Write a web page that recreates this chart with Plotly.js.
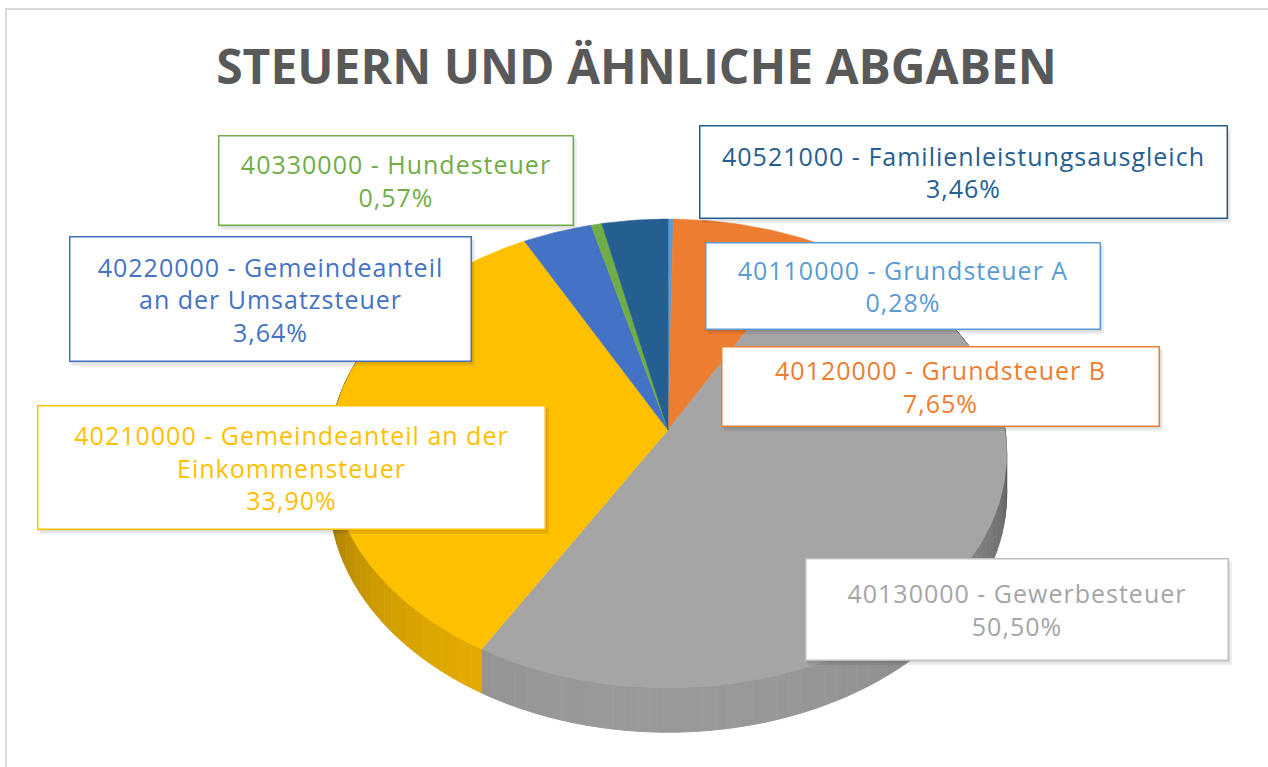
<!DOCTYPE html>
<html>
<head>
<meta charset="utf-8">
<script src="https://cdn.plot.ly/plotly-3.0.1.min.js"></script>
<style>
html,body{margin:0;padding:0;background:#fff;}
#chart{width:1268px;height:767px;}
#chart .annotation-text{letter-spacing:1px;}
</style>
</head>
<body>
<div id="chart"></div>
<script>
// ---- data ----
const codes = ['40110000','40120000','40130000','40210000','40220000','40330000','40521000'];
const names = ['Grundsteuer A','Grundsteuer B','Gewerbesteuer','Gemeindeanteil an der Einkommensteuer','Gemeindeanteil an der Umsatzsteuer','Hundesteuer','Familienleistungsausgleich'];
const shares = [0.28, 7.65, 50.50, 33.90, 3.64, 0.57, 3.46];
const colors = ['#5B9BD5','#ED7D31','#A5A5A5','#FFC000','#4472C4','#70AD47','#255E91'];
const titleText = 'STEUERN UND ÄHNLICHE ABGABEN';

// ---- pie geometry (layout) ----
const geo = {cx: 668, cy: 430, A: 337, B: 232, k: 0.10, D: 40};
function proj(thDeg, drop) {
  const t = thDeg * Math.PI / 180;
  const u = Math.sin(t), v = -Math.cos(t);
  const s = 1 / (1 - geo.k * v);
  return [geo.cx + geo.A * u * s, geo.cy + geo.B * v * s + drop * s];
}
function hex2rgb(h){return [parseInt(h.slice(1,3),16),parseInt(h.slice(3,5),16),parseInt(h.slice(5,7),16)];}
function shade(h,f){const c=hex2rgb(h).map(x=>Math.max(0,Math.min(255,Math.round(x*f))));return 'rgb('+c.join(',')+')';}
function pct(v){return v.toFixed(2).replace('.', ',') + '%';}

const total = shares.reduce((a,b)=>a+b,0);
const starts = [], ends = [];
let acc = 0;
shares.forEach(v => { starts.push(acc/total*360); acc += v; ends.push(acc/total*360); });

const traces = [];
// side walls (front part), shaded strips
shares.forEach((v,i) => {
  const a0 = Math.max(starts[i], 60), a1 = Math.min(ends[i], 300);
  if (a1 <= a0) return;
  const n = Math.max(1, Math.ceil((a1 - a0) / 2));
  for (let j = 0; j < n; j++) {
    const t0 = a0 + (a1 - a0) * j / n, t1 = a0 + (a1 - a0) * (j + 1) / n;
    const xs = [], ys = [];
    for (let q = 0; q <= 4; q++) { const p = proj(t0 + (t1 - t0) * q / 4, 0); xs.push(p[0]); ys.push(p[1]); }
    for (let q = 4; q >= 0; q--) { const p = proj(t0 + (t1 - t0) * q / 4, geo.D); xs.push(p[0]); ys.push(p[1]); }
    const vv = Math.max(0, -Math.cos((t0 + t1) / 2 * Math.PI / 180));
    const f = 0.22 + 0.71 * Math.pow(vv, 0.35);
    const col = shade(colors[i], f);
    traces.push({type:'scatter', mode:'lines', x:xs, y:ys, fill:'toself', fillcolor:col,
      line:{color:col, width:1}, hoverinfo:'skip', showlegend:false});
  }
});
// top faces
shares.forEach((v,i) => {
  const xs = [geo.cx], ys = [geo.cy];
  const n = Math.max(2, Math.ceil((ends[i] - starts[i]) / 1));
  for (let q = 0; q <= n; q++) { const p = proj(starts[i] + (ends[i] - starts[i]) * q / n, 0); xs.push(p[0]); ys.push(p[1]); }
  xs.push(geo.cx); ys.push(geo.cy);
  traces.push({type:'scatter', mode:'lines', x:xs, y:ys, fill:'toself', fillcolor:colors[i],
    line:{color:colors[i], width:0.6}, name: codes[i] + ' - ' + names[i],
    text: pct(v), hoverinfo:'name+text', showlegend:false});
});

// ---- label boxes (layout) ----
const boxes = [
  {i:0, x0:705, x1:1100, y0:242, y1:329, wrap:60},
  {i:1, x0:721, x1:1159, y0:346, y1:426, wrap:60},
  {i:2, x0:805, x1:1228, y0:558, y1:660, wrap:60, border:'#BFBFBF'},
  {i:3, x0:37,  x1:545,  y0:405, y1:529, wrap:33},
  {i:4, x0:69,  x1:471,  y0:236, y1:361, wrap:26},
  {i:5, x0:218, x1:573,  y0:135, y1:225, wrap:60},
  {i:6, x0:699, x1:1227, y0:125, y1:218, wrap:60}
];
function wrapText(s, maxc){
  const w = s.split(' '); const lines = []; let cur = '';
  w.forEach(t => { const c = cur ? cur + ' ' + t : t; if (c.length > maxc && cur) { lines.push(cur); cur = t; } else cur = c; });
  if (cur) lines.push(cur); return lines.join('<br>');
}
const annotations = [];
const shapes = [];
boxes.forEach(b => {
  const i = b.i;
  shapes.push({type:'rect', xref:'x', yref:'y', x0:b.x0+3, x1:b.x1+4, y0:b.y0+4, y1:b.y1+5,
    fillcolor:'rgba(0,0,0,0.07)', line:{width:0}, layer:'above'});
  shapes.push({type:'rect', xref:'x', yref:'y', x0:b.x0+1, x1:b.x1+2, y0:b.y0+2, y1:b.y1+2.5,
    fillcolor:'rgba(0,0,0,0.08)', line:{width:0}, layer:'above'});
  annotations.push({
    xref:'x', yref:'y', x:(b.x0+b.x1)/2, y:(b.y0+b.y1)/2, xanchor:'center', yanchor:'middle',
    text: wrapText(codes[i] + ' - ' + names[i], b.wrap) + '<br>' + pct(shares[i]),
    showarrow:false, align:'center', valign:'middle',
    width:(b.x1-b.x0)-2, height:(b.y1-b.y0)-2, borderpad:0, borderwidth:1.5,
    bordercolor: b.border || colors[i], bgcolor:'#ffffff',
    font:{family:'Open Sans, sans-serif', size:25, color:colors[i]}
  });
});
// outer chart border
shapes.push({type:'rect', xref:'x', yref:'y', x0:6, x1:1290, y0:9, y1:790, line:{color:'#D9D9D9', width:2}, fillcolor:'rgba(0,0,0,0)', layer:'below'});

const layout = {
  width:1268, height:767, margin:{l:0,r:0,t:0,b:0}, paper_bgcolor:'#ffffff', plot_bgcolor:'#ffffff',
  showlegend:false,
  title:{text:titleText, x:0.502, xanchor:'center', y:0.912, yref:'container', yanchor:'middle',
    font:{family:'Open Sans, sans-serif', size:48, color:'#595959', weight:'bold'}},
  xaxis:{range:[0,1268], visible:false, fixedrange:true},
  yaxis:{range:[767,0], visible:false, fixedrange:true},
  annotations: annotations, shapes: shapes
};
Plotly.newPlot('chart', traces, layout, {displayModeBar:false, staticPlot:true});
</script>
</body>
</html>
